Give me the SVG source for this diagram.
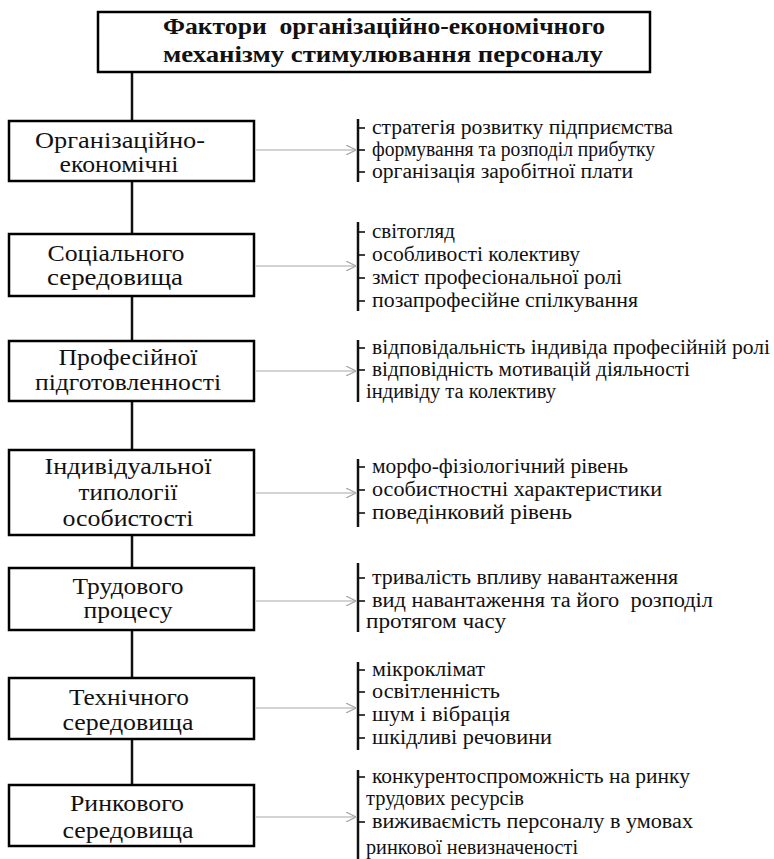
<svg xmlns="http://www.w3.org/2000/svg" width="774" height="859" viewBox="0 0 774 859">
<defs>
<style>
.box{fill:#fff;stroke:#000;stroke-width:2.5}
.nt{font-size:24px;fill:#111;text-anchor:middle}
.tt{font-size:23px;font-weight:bold;fill:#111}
.lt{font-size:20px;fill:#111}
.trunk{stroke:#111;stroke-width:2.5;fill:none}
.arr{stroke:#a8a8a8;stroke-width:1.2;fill:none}
.br{stroke:#111;stroke-width:2.5;fill:none}
.tk{stroke:#111;stroke-width:1.6;fill:none}
</style>
<marker id="ah" viewBox="0 0 10 10" refX="10" refY="5" markerWidth="10" markerHeight="10" markerUnits="userSpaceOnUse" orient="auto">
<path d="M0,0 L10,5 L0,10" fill="none" stroke="#a8a8a8" stroke-width="1.2"/>
</marker>
</defs>
<rect width="774" height="859" fill="#fff"/>

<g id="connectors">
<line class="trunk" x1="132" y1="72" x2="132" y2="785"/>
<line class="arr" x1="256" y1="150" x2="356" y2="150" marker-end="url(#ah)"/>
<line class="arr" x1="256" y1="266" x2="356" y2="266" marker-end="url(#ah)"/>
<line class="arr" x1="256" y1="371" x2="356" y2="371" marker-end="url(#ah)"/>
<line class="arr" x1="256" y1="493" x2="356" y2="493" marker-end="url(#ah)"/>
<line class="arr" x1="256" y1="601" x2="356" y2="601" marker-end="url(#ah)"/>
<line class="arr" x1="256" y1="708" x2="356" y2="708" marker-end="url(#ah)"/>
<line class="arr" x1="256" y1="817" x2="356" y2="817" marker-end="url(#ah)"/>
</g>

<g font-family="'Liberation Serif', 'DejaVu Serif', serif">
<g id="title">
<rect class="box" x="98" y="12" width="552" height="60"/>
<text class="tt" x="163" y="34" textLength="442" lengthAdjust="spacingAndGlyphs">Фактори&#160; організаційно-економічного</text>
<text class="tt" x="163" y="62" textLength="440" lengthAdjust="spacingAndGlyphs">механізму стимулювання персоналу</text>
</g>

<g id="node1">
<rect class="box" x="9" y="121" width="245" height="60"/>
<text class="nt" x="120" y="148" textLength="170" lengthAdjust="spacingAndGlyphs">Організаційно-</text>
<text class="nt" x="119" y="172" textLength="119" lengthAdjust="spacingAndGlyphs">економічні</text>
</g>
<g id="node2">
<rect class="box" x="9" y="234" width="245" height="62"/>
<text class="nt" x="116" y="261" textLength="137" lengthAdjust="spacingAndGlyphs">Соціального</text>
<text class="nt" x="115" y="285" textLength="136" lengthAdjust="spacingAndGlyphs">середовища</text>
</g>
<g id="node3">
<rect class="box" x="9" y="341" width="245" height="60"/>
<text class="nt" x="128" y="365" textLength="139" lengthAdjust="spacingAndGlyphs">Професійної</text>
<text class="nt" x="128" y="390" textLength="186" lengthAdjust="spacingAndGlyphs">підготовленності</text>
</g>
<g id="node4">
<rect class="box" x="9" y="450" width="245" height="85"/>
<text class="nt" x="128" y="474" textLength="167" lengthAdjust="spacingAndGlyphs">Індивідуальної</text>
<text class="nt" x="128" y="500" textLength="99" lengthAdjust="spacingAndGlyphs">типології</text>
<text class="nt" x="128" y="526" textLength="131" lengthAdjust="spacingAndGlyphs">особистості</text>
</g>
<g id="node5">
<rect class="box" x="9" y="568" width="245" height="62"/>
<text class="nt" x="128" y="594" textLength="111" lengthAdjust="spacingAndGlyphs">Трудового</text>
<text class="nt" x="128" y="618" textLength="89" lengthAdjust="spacingAndGlyphs">процесу</text>
</g>
<g id="node6">
<rect class="box" x="9" y="678" width="245" height="61"/>
<text class="nt" x="129" y="705" textLength="120" lengthAdjust="spacingAndGlyphs">Технічного</text>
<text class="nt" x="128" y="730" textLength="131" lengthAdjust="spacingAndGlyphs">середовища</text>
</g>
<g id="node7">
<rect class="box" x="9" y="785" width="245" height="61"/>
<text class="nt" x="127" y="811" textLength="114" lengthAdjust="spacingAndGlyphs">Ринкового</text>
<text class="nt" x="128" y="838" textLength="131" lengthAdjust="spacingAndGlyphs">середовища</text>
</g>

<g id="list1">
<line class="br" x1="358" y1="119" x2="358" y2="182"/>
<line class="tk" x1="358" y1="128" x2="365" y2="128"/>
<line class="tk" x1="358" y1="150" x2="365" y2="150"/>
<line class="tk" x1="358" y1="172" x2="365" y2="172"/>
<text class="lt" x="372" y="134" textLength="301" lengthAdjust="spacingAndGlyphs">стратегія розвитку підприємства</text>
<text class="lt" x="372" y="156" textLength="283" lengthAdjust="spacingAndGlyphs">формування та розподіл прибутку</text>
<text class="lt" x="372" y="178" textLength="261" lengthAdjust="spacingAndGlyphs">організація заробітної плати</text>
</g>

<g id="list2">
<line class="br" x1="358" y1="222" x2="358" y2="311"/>
<line class="tk" x1="358" y1="232" x2="365" y2="232"/>
<line class="tk" x1="358" y1="255" x2="365" y2="255"/>
<line class="tk" x1="358" y1="278" x2="365" y2="278"/>
<line class="tk" x1="358" y1="301" x2="365" y2="301"/>
<text class="lt" x="372" y="238" textLength="83" lengthAdjust="spacingAndGlyphs">світогляд</text>
<text class="lt" x="372" y="261" textLength="208" lengthAdjust="spacingAndGlyphs">особливості колективу</text>
<text class="lt" x="372" y="284" textLength="250" lengthAdjust="spacingAndGlyphs">зміст професіональної ролі</text>
<text class="lt" x="372" y="307" textLength="266" lengthAdjust="spacingAndGlyphs">позапрофесійне спілкування</text>
</g>

<g id="list3">
<line class="br" x1="358" y1="340" x2="358" y2="402"/>
<line class="tk" x1="358" y1="348" x2="365" y2="348"/>
<line class="tk" x1="358" y1="370" x2="365" y2="370"/>
<text class="lt" x="372" y="354" textLength="398" lengthAdjust="spacingAndGlyphs">відповідальність індивіда професійній ролі</text>
<text class="lt" x="372" y="376" textLength="318" lengthAdjust="spacingAndGlyphs">відповідність мотивацій діяльності</text>
<text class="lt" x="366" y="398" textLength="190" lengthAdjust="spacingAndGlyphs">індивіду та колективу</text>
</g>

<g id="list4">
<line class="br" x1="358" y1="459" x2="358" y2="527"/>
<line class="tk" x1="358" y1="467" x2="365" y2="467"/>
<line class="tk" x1="358" y1="490" x2="365" y2="490"/>
<line class="tk" x1="358" y1="513" x2="365" y2="513"/>
<text class="lt" x="372" y="473" textLength="256" lengthAdjust="spacingAndGlyphs">морфо-фізіологічний рівень</text>
<text class="lt" x="372" y="496" textLength="290" lengthAdjust="spacingAndGlyphs">особистностні характеристики</text>
<text class="lt" x="372" y="519" textLength="200" lengthAdjust="spacingAndGlyphs">поведінковий рівень</text>
</g>

<g id="list5">
<line class="br" x1="358" y1="563" x2="358" y2="632"/>
<line class="tk" x1="358" y1="578" x2="365" y2="578"/>
<line class="tk" x1="358" y1="601" x2="365" y2="601"/>
<text class="lt" x="372" y="584" textLength="306" lengthAdjust="spacingAndGlyphs">тривалість впливу навантаження</text>
<text class="lt" x="372" y="607" textLength="341" lengthAdjust="spacingAndGlyphs">вид навантаження та його&#160; розподіл</text>
<text class="lt" x="366" y="628" textLength="140" lengthAdjust="spacingAndGlyphs">протягом часу</text>
</g>

<g id="list6">
<line class="br" x1="358" y1="662" x2="358" y2="750"/>
<line class="tk" x1="358" y1="670" x2="365" y2="670"/>
<line class="tk" x1="358" y1="692" x2="365" y2="692"/>
<line class="tk" x1="358" y1="715" x2="365" y2="715"/>
<line class="tk" x1="358" y1="738" x2="365" y2="738"/>
<text class="lt" x="372" y="676" textLength="113" lengthAdjust="spacingAndGlyphs">мікроклімат</text>
<text class="lt" x="372" y="698" textLength="128" lengthAdjust="spacingAndGlyphs">освітленність</text>
<text class="lt" x="372" y="721" textLength="138" lengthAdjust="spacingAndGlyphs">шум і вібрація</text>
<text class="lt" x="372" y="744" textLength="180" lengthAdjust="spacingAndGlyphs">шкідливі речовини</text>
</g>

<g id="list7">
<line class="br" x1="358" y1="770" x2="358" y2="859"/>
<line class="tk" x1="358" y1="777" x2="365" y2="777"/>
<line class="tk" x1="358" y1="822" x2="365" y2="822"/>
<text class="lt" x="372" y="783" textLength="318" lengthAdjust="spacingAndGlyphs">конкурентоспроможність на ринку</text>
<text class="lt" x="366" y="805" textLength="158" lengthAdjust="spacingAndGlyphs">трудових ресурсів</text>
<text class="lt" x="372" y="828" textLength="321" lengthAdjust="spacingAndGlyphs">виживаємість персоналу в умовах</text>
<text class="lt" x="366" y="854" textLength="212" lengthAdjust="spacingAndGlyphs">ринкової невизначеності</text>
</g>
</g>
</svg>
